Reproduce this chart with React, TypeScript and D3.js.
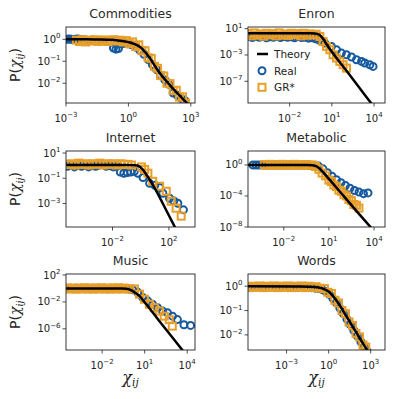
import * as d3 from "d3";

// every value below is a log10 exponent

// Commodities
const commTheoryX = [-3, -2, -1.5, -1, -0.5, 0, 0.3, 0.6, 1.0, 1.4, 2.0, 2.5, 3.0];
const commTheoryY = [0, 0, -0.01, -0.02, -0.05, -0.13, -0.22, -0.38, -0.82, -1.4, -2.1, -2.6, -3.1];
const commRealX = [-2.95, -2.85, -2.75, -2.65, -2.55, -2.45, -2.35, -2.2, -2.05, -1.9, -1.75, -1.6, -1.45, -1.3, -1.15, -1.0, -0.85, -0.72, -0.6, -0.48, -0.35, -0.2, -0.05, 0.15, 0.35, 0.55, 0.75, 0.95, 1.15, 1.35, 1.55, 1.75, 1.95, 2.15, 2.35, 2.55, 2.72];
const commRealY = [0, 0.01, 0, -0.01, 0, 0.01, 0, -0.02, -0.03, -0.04, -0.03, -0.05, -0.06, -0.04, -0.05, -0.08, -0.12, -0.4, -0.45, -0.42, -0.2, -0.18, -0.2, -0.25, -0.35, -0.5, -0.68, -0.92, -1.15, -1.38, -1.65, -1.85, -2.05, -2.45, -2.55, -2.7, -2.8];
const commGrX = [-2.5, -2.35, -2.2, -2.05, -1.9, -1.75, -1.6, -1.45, -1.3, -1.15, -1.0, -0.85, -0.7, -0.55, -0.4, -0.25, -0.1, 0.05, 0.2, 0.35, 0.5, 0.65, 0.8, 0.95, 1.1, 1.25, 1.4, 1.55, 1.7, 1.85, 2.0, 2.15, 2.3, 2.45, 2.6, 2.75];
const commGrY = [-0.04, -0.1, -0.02, -0.12, -0.05, -0.08, -0.02, -0.1, -0.06, -0.03, -0.1, -0.05, -0.02, -0.08, -0.04, -0.12, -0.06, -0.2, -0.12, -0.33, -0.25, -0.52, -0.52, -0.84, -0.87, -1.23, -1.32, -1.65, -1.67, -2.0, -2.02, -2.33, -2.32, -2.63, -2.62, -2.9];

// Enron
const enronTheoryX = [-5, -0.5, -0.2, 0.1, 0.35, 0.6, 1, 2, 3, 4, 4.8];
const enronTheoryY = [0.3, 0.3, 0.27, 0.1, -0.45, -1.3, -2.5, -5.3, -8.1, -10.9, -13.1];
const enronRealX = [-4.9, -4.65, -4.4, -4.15, -3.9, -3.65, -3.4, -3.15, -2.9, -2.65, -2.4, -2.15, -1.9, -1.65, -1.4, -1.15, -0.9, -0.65, -0.4, -0.15, 0.1, 0.5, 0.97, 1.33, 1.68, 2.04, 2.4, 2.75, 3.11, 3.34, 3.7, 3.93];
const enronRealY = [-0.2, -0.35, -0.15, -0.3, -0.2, -0.4, -0.25, -0.3, -0.15, -0.35, -0.2, -0.3, -0.25, -0.4, -0.2, -0.35, -0.3, -0.45, -0.4, -0.55, -0.75, -1.2, -1.72, -2.21, -2.71, -2.97, -3.31, -3.72, -3.98, -4.22, -4.48, -4.74];
const enronGrX = [-4.95, -4.73, -4.51, -4.29, -4.07, -3.85, -3.63, -3.41, -3.19, -2.97, -2.75, -2.53, -2.31, -2.09, -1.87, -1.65, -1.43, -1.21, -0.99, -0.77, -0.55, -0.33, -0.11, 0.15, 0.38, 0.62, 0.86, 1.09, 1.33, 1.57, 1.8, 2.04];
const enronGrY = [0.25, -0.1, 0.35, 0.0, 0.2, -0.15, 0.3, 0.05, 0.25, -0.1, 0.35, 0.0, 0.2, -0.05, 0.3, 0.1, 0.25, -0.1, 0.3, 0.0, 0.2, 0.05, 0.15, -0.2, -0.96, -1.7, -2.2, -2.97, -3.47, -3.98, -4.48, -5.0];

// Internet
const internetTheoryX = [-5.3, -1, -0.4, -0.15, 0.15, 0.5, 1, 2, 2.6];
const internetTheoryY = [0.05, 0.05, 0.03, -0.03, -0.32, -0.88, -1.8, -3.95, -5.25];
const internetRealX = [-5.2, -4.95, -4.7, -4.45, -4.2, -3.95, -3.7, -3.45, -3.2, -2.95, -2.7, -2.45, -2.2, -1.95, -1.7, -1.45, -1.2, -0.95, -0.7, -0.45, -0.2, 0.16, 0.63, 1.0, 1.34, 1.57, 2.04, 2.35, 2.63, 3.03];
const internetRealY = [-0.05, 0.1, -0.1, 0.05, -0.05, 0.1, -0.1, 0.0, -0.05, 0.05, 0.1, -0.05, 0.0, -0.1, -0.05, -0.5, -0.6, -0.55, -0.5, -0.45, -0.6, -0.94, -1.4, -1.55, -1.74, -2.19, -2.58, -2.8, -2.98, -3.5];
const internetGrX = [-5.15, -4.9, -4.65, -4.4, -4.15, -3.9, -3.65, -3.4, -3.15, -2.9, -2.65, -2.4, -2.15, -1.9, -1.65, -1.4, -1.15, -0.9, -0.66, 0.05, 0.28, 0.51, 0.85, 1.34, 1.81, 2.16, 2.51, 2.87];
const internetGrY = [0.1, 0.15, 0.05, 0.2, 0.1, 0.15, 0.05, 0.15, 0.1, 0.2, 0.05, 0.15, 0.1, 0.15, 0.05, 0.15, 0.1, 0.1, 0.05, -0.1, -0.3, -0.6, -1.24, -1.63, -2.03, -2.82, -3.37, -4.0];

// Metabolic
const metabolicTheoryX = [-4.4, -0.5, -0.1, 0.2, 0.5, 1, 2, 3, 3.9];
const metabolicTheoryY = [0, 0, -0.03, -0.2, -0.7, -1.8, -4.05, -6.3, -8.3];
const metabolicRealX = [-4.05, -3.85, -3.65, -3.45, -3.25, -3.05, -2.8, -2.55, -2.3, -2.05, -1.8, -1.55, -1.3, -1.05, -0.8, -0.55, -0.3, -0.05, 0.3, 0.6, 0.9, 1.2, 1.5, 1.8, 2.1, 2.4, 2.7, 3.0, 3.3, 3.6];
const metabolicRealY = [0, 0, 0, 0, 0, 0, -0.05, 0, -0.05, 0, -0.05, 0, -0.05, 0, -0.05, -0.05, -0.08, -0.1, -0.15, -0.5, -1.0, -1.45, -1.9, -2.3, -2.65, -3.0, -3.3, -3.5, -3.7, -3.6];
const metabolicGrX = [-3.3, -3.1, -2.9, -2.7, -2.5, -2.3, -2.1, -1.9, -1.7, -1.5, -1.3, -1.1, -0.9, -0.7, -0.5, -0.3, -0.1, 0.1, 0.33, 0.55, 0.78, 1.0, 1.17, 1.33, 1.5, 1.66, 1.83, 2.0, 2.17, 2.33, 2.5, 2.66, 2.83, 3.0];
const metabolicGrY = [0.05, -0.05, 0.08, -0.04, 0.05, -0.06, 0.08, -0.05, 0.05, -0.04, 0.08, -0.05, 0.05, -0.06, 0.06, -0.04, 0.0, -0.2, -0.55, -1.05, -1.4, -1.95, -2.15, -2.6, -2.8, -3.25, -3.4, -3.85, -4.0, -4.45, -4.6, -5.1, -5.2, -5.55];

// Music
const musicTheoryX = [-4.6, -0.6, -0.3, 0, 0.3, 0.63, 1, 2, 3, 3.9];
const musicTheoryY = [0, 0, -0.03, -0.2, -0.6, -1.1, -2.05, -4.75, -7.4, -9.8];
const musicRealX = [-4.5, -4.3, -4.1, -3.9, -3.7, -3.5, -3.3, -3.1, -2.9, -2.7, -2.5, -2.3, -2.1, -1.9, -1.7, -1.5, -1.3, -1.1, -0.9, -0.7, -0.5, -0.3, -0.1, 0.15, 0.51, 0.86, 1.21, 1.56, 1.91, 2.26, 2.61, 2.96, 3.31, 3.77, 4.24];
const musicRealY = [0, -0.03, 0, -0.03, 0, -0.03, 0, -0.03, 0, -0.03, 0, -0.03, 0, -0.03, 0, -0.03, 0, -0.03, 0, -0.03, -0.02, -0.05, -0.08, -0.2, -0.58, -1.34, -1.84, -2.36, -2.86, -3.36, -3.62, -4.12, -4.63, -5.4, -5.49];
const musicGrX = [-4.45, -4.25, -4.05, -3.85, -3.65, -3.45, -3.25, -3.05, -2.85, -2.65, -2.45, -2.25, -2.05, -1.85, -1.65, -1.45, -1.25, -1.05, -0.85, -0.65, -0.45, -0.25, -0.05, 0.28, 0.63, 0.98, 1.33, 1.68, 2.03, 2.38, 2.73, 2.95];
const musicGrY = [0.08, -0.08, 0.06, -0.1, 0.08, -0.06, 0.1, -0.08, 0.06, -0.1, 0.08, -0.06, 0.1, -0.08, 0.06, -0.1, 0.08, -0.06, 0.1, -0.08, 0.06, -0.05, -0.04, -0.08, -0.84, -1.6, -2.36, -2.86, -3.36, -4.12, -4.64, -5.6];

// Words
const wordsTheoryX = [-5.8, -2, -1, -0.5, 0, 0.5, 1, 1.5, 2, 2.5, 3];
const wordsTheoryY = [0, -0.01, -0.03, -0.08, -0.22, -0.55, -0.98, -1.46, -1.93, -2.4, -2.85];
const wordsRealX = [-5.7, -5.45, -5.2, -4.95, -4.7, -4.45, -4.2, -3.95, -3.7, -3.45, -3.2, -2.95, -2.7, -2.45, -2.2, -1.95, -1.7, -1.45, -1.2, -0.95, -0.7, -0.45, -0.2, 0.05, 0.3, 0.55, 0.8, 1.05, 1.3, 1.55, 1.8, 2.05, 2.3, 2.55, 2.75];
const wordsRealY = [-0.03, -0.02, -0.04, -0.03, -0.02, -0.04, -0.03, -0.02, -0.04, -0.03, -0.02, -0.04, -0.03, -0.02, -0.04, -0.03, -0.04, -0.05, -0.06, -0.08, -0.1, -0.14, -0.22, -0.33, -0.5, -0.68, -0.9, -1.12, -1.35, -1.58, -1.82, -2.05, -2.28, -2.5, -2.68];
const wordsGrX = [-5.65, -5.4, -5.15, -4.9, -4.65, -4.4, -4.15, -3.9, -3.65, -3.4, -3.15, -2.9, -2.65, -2.4, -2.15, -1.9, -1.65, -1.4, -1.15, -0.9, -0.65, -0.3, -0.05, 0.2, 0.45, 0.7, 0.95, 1.2, 1.45, 1.7, 1.95, 2.2, 2.45, 2.65];
const wordsGrY = [-0.06, 0.0, -0.05, 0.01, -0.06, 0.0, -0.05, 0.01, -0.06, 0.0, -0.05, 0.01, -0.06, 0.0, -0.05, 0.01, -0.06, 0.0, -0.05, -0.02, -0.08, -0.1, -0.25, -0.3, -0.58, -0.69, -1.0, -1.13, -1.47, -1.61, -1.94, -2.08, -2.41, -2.5];

const titles = ["Commodities", "Enron", "Internet", "Metabolic", "Music", "Words"];
const xTickExps = [[-3, 0, 3], [-2, 1, 4], [-2, 2], [-2, 1, 4], [-2, 1, 4], [-3, 0, 3]];
const yTickExps = [[0, -1, -2], [1, -3, -7], [1, -1, -3], [0, -4, -8], [2, -2, -6], [0, -1, -2]];
const xDomains = [[-3, 3.2], [-4.96, 4.78], [-5.3, 3.85], [-4.38, 4.73], [-4.55, 4.55], [-5.75, 4.02]];
const yDomains = [[-2.9, 0.56], [-10.3, 1.25], [-4.86, 1.16], [-8.0, 1.8], [-9.15, 2.15], [-2.62, 0.5]];

const theoryX = [commTheoryX, enronTheoryX, internetTheoryX, metabolicTheoryX, musicTheoryX, wordsTheoryX];
const theoryY = [commTheoryY, enronTheoryY, internetTheoryY, metabolicTheoryY, musicTheoryY, wordsTheoryY];
const realX = [commRealX, enronRealX, internetRealX, metabolicRealX, musicRealX, wordsRealX];
const realY = [commRealY, enronRealY, internetRealY, metabolicRealY, musicRealY, wordsRealY];
const grX = [commGrX, enronGrX, internetGrX, metabolicGrX, musicGrX, wordsGrX];
const grY = [commGrY, enronGrY, internetGrY, metabolicGrY, musicGrY, wordsGrY];

const COLS = [[66, 195], [248, 385]];
const ROWS = [[27, 103], [151, 227], [274, 350]];
const BLUE = "#15599f";
const ORANGE = "#e89f2a";
const R = 3.5;
const SQ = 7;
const MW = 2;

const pairs = (xs: number[], ys: number[]) => xs.map((e, i) => [10 ** e, 10 ** ys[i]] as [number, number]);
const sup = (e: number) => (e < 0 ? "\u2212" + Math.abs(e) : String(e));

function PowerLabel({ x, y, e, anchor }: { x: number; y: number; e: number; anchor: string }) {
  return (
    <text x={x} y={y} fontSize={10} textAnchor={anchor} fill="#222">
      10
      <tspan dy={-4.5} fontSize={7}>{sup(e)}</tspan>
    </text>
  );
}

function Panel({ i }: { i: number }) {
  const [x0, x1] = COLS[i % 2];
  const [y0, y1] = ROWS[Math.floor(i / 2)];
  const xs = d3.scaleLog().domain([10 ** xDomains[i][0], 10 ** xDomains[i][1]]).range([x0, x1]);
  const ys = d3.scaleLog().domain([10 ** yDomains[i][0], 10 ** yDomains[i][1]]).range([y1, y0]);
  const line = d3
    .line<[number, number]>()
    .x((d) => xs(d[0]))
    .y((d) => ys(d[1]))
    .curve(d3.curveMonotoneX);
  const clip = `clip${i}`;
  return (
    <g>
      <defs>
        <clipPath id={clip}>
          <rect x={x0} y={y0} width={x1 - x0} height={y1 - y0} />
        </clipPath>
      </defs>
      <g clipPath={`url(#${clip})`}>
        {pairs(realX[i], realY[i]).map((d, k) => (
          <circle key={"r" + k} cx={xs(d[0])} cy={ys(d[1])} r={R} fill="none" stroke={BLUE} strokeWidth={MW} />
        ))}
        {pairs(grX[i], grY[i]).map((d, k) => (
          <rect key={"g" + k} x={xs(d[0]) - SQ / 2} y={ys(d[1]) - SQ / 2} width={SQ} height={SQ} fill="none" stroke={ORANGE} strokeWidth={MW} />
        ))}
        <path d={line(pairs(theoryX[i], theoryY[i])) || ""} fill="none" stroke="#000" strokeWidth={2.5} />
      </g>
      <rect x={x0} y={y0} width={x1 - x0} height={y1 - y0} fill="none" stroke="#222" strokeWidth={0.9} />
      {xTickExps[i].map((e) => (
        <g key={"x" + e}>
          <line x1={xs(10 ** e)} x2={xs(10 ** e)} y1={y1} y2={y1 + 3.5} stroke="#222" strokeWidth={0.8} />
          <PowerLabel x={xs(10 ** e)} y={y1 + 18.5} e={e} anchor="middle" />
        </g>
      ))}
      {yTickExps[i].map((e) => (
        <g key={"y" + e}>
          <line x1={x0 - 3.5} x2={x0} y1={ys(10 ** e)} y2={ys(10 ** e)} stroke="#222" strokeWidth={0.8} />
          <PowerLabel x={x0 - 5.5} y={ys(10 ** e) + 3.5} e={e} anchor="end" />
        </g>
      ))}
      <text x={(x0 + x1) / 2} y={y0 - 8.7} fontSize={12.5} textAnchor="middle" fill="#2a2a2a">
        {titles[i]}
      </text>
      {i % 2 === 0 && (
        <text transform={`translate(19.5,${(y0 + y1) / 2}) rotate(-90)`} fontSize={14} textAnchor="middle" fill="#222">
          P(
          <tspan fontFamily="DejaVu Serif" fontStyle="italic">χ</tspan>
          <tspan fontFamily="DejaVu Serif" fontStyle="italic" fontSize={9.5} dy={3}>ij</tspan>
          <tspan dy={-3}>)</tspan>
        </text>
      )}
      {i >= 4 && (
        <text x={(x0 + x1) / 2} y={383} fontSize={16} textAnchor="middle" fill="#222" fontFamily="DejaVu Serif" fontStyle="italic">
          χ
          <tspan fontSize={10.5} dy={3}>ij</tspan>
        </text>
      )}
    </g>
  );
}

function Legend() {
  const items = [
    { label: "Theory", y: 54 },
    { label: "Real", y: 70.7 },
    { label: "GR*", y: 87.3 },
  ];
  return (
    <g fontSize={10.5} fill="#222">
      <line x1={257} x2={268} y1={items[0].y} y2={items[0].y} stroke="#000" strokeWidth={2.5} />
      <circle cx={262} cy={items[1].y} r={R} fill="none" stroke={BLUE} strokeWidth={MW} />
      <rect x={262 - SQ / 2} y={items[2].y - SQ / 2} width={SQ} height={SQ} fill="none" stroke={ORANGE} strokeWidth={MW} />
      {items.map((d) => (
        <text key={d.label} x={274} y={d.y + 3.8}>
          {d.label}
        </text>
      ))}
    </g>
  );
}

export default function App() {
  return (
    <svg
      width={399}
      height={399}
      style={{ position: "absolute", left: 0, top: 0, background: "#fff" }}
      fontFamily="DejaVu Sans"
    >
      {titles.map((t, i) => (
        <Panel key={t} i={i} />
      ))}
      <Legend />
    </svg>
  );
}
